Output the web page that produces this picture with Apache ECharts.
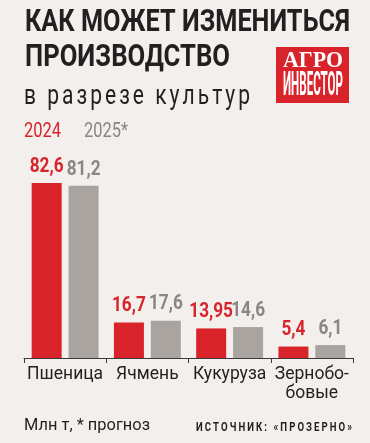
<!DOCTYPE html>
<html><head><meta charset="utf-8">
<script src="https://cdn.jsdelivr.net/npm/echarts@6/dist/echarts.min.js"></script>
<style>html,body{margin:0;padding:0;background:#f2efec;}#c{width:370px;height:443px;}</style>
</head><body><div id="c"></div>
<script>
// ---- data ----
const categories = ['Пшеница', 'Ячмень', 'Кукуруза', 'Зернобо-\nбовые'];
const seriesNames = ['2024', '2025*'];
const values2024 = [82.6, 16.7, 13.95, 5.4];
const values2025 = [81.2, 17.6, 14.6, 6.1];
const titleLines = ['КАК МОЖЕТ ИЗМЕНИТЬСЯ', 'ПРОИЗВОДСТВО'];
const subtitle = 'в разрезе культур';
const unitNote = 'Млн т, * прогноз';
const sourceNote = 'ИСТОЧНИК: «ПРОЗЕРНО»';
const logoLines = ['АГРО', 'ИНВЕСТОР'];

// ---- styles ----
const RED = '#d9232a', GRAY_BAR = '#a9a49f', GRAY_TXT = '#8b8681', DARK = '#231f20', BG = '#f2efec';

const cv = document.createElement('canvas').getContext('2d');
function tw(text, font) { cv.font = font; return cv.measureText(text).width; }

function fitText(str, x, y, size, weight, family, color, width) {
  const font = weight + ' ' + size + 'px "' + family + '"';
  const sx = width / tw(str, font);
  return { type: 'text', x: x, y: y, scaleX: sx, silent: true,
    style: { text: str, fill: color, fontSize: size, fontWeight: weight, fontFamily: family,
      align: 'left', verticalAlign: 'middle', textAlign: 'left', textVerticalAlign: 'middle' } };
}
function spacedText(str, x, y, size, weight, family, color, width, sx) {
  const font = weight + ' ' + size + 'px "' + family + '"';
  const chars = Array.from(str);
  const ws = chars.map(c => tw(c, font) * sx);
  const total = ws.reduce((a, b) => a + b, 0);
  const gap = (width - total) / (chars.length - 1);
  let cx = x; const els = [];
  chars.forEach((c, i) => {
    if (c !== ' ') els.push({ type: 'text', x: cx, y: y, scaleX: sx, silent: true,
      style: { text: c, fill: color, fontSize: size, fontWeight: weight, fontFamily: family,
        align: 'left', verticalAlign: 'middle', textAlign: 'left', textVerticalAlign: 'middle' } });
    cx += ws[i] + gap;
  });
  return els;
}

const fmt = v => String(v).replace('.', ',');

// value labels drawn through the chart's own coordinate system (condensed by scaleX)
function labelSeries(values, offset, color) {
  return {
    type: 'custom', coordinateSystem: 'cartesian2d', silent: true, z: 5,
    data: values.map((v, i) => [i, v]),
    encode: { x: 0, y: 1 },
    renderItem: function (params, api) {
      const p = api.coord([api.value(0), api.value(1)]);
      return { type: 'text', x: p[0] + offset, y: p[1] - 6, scaleX: 0.82,
        style: { text: fmt(api.value(1)), fill: color, fontSize: 21, fontWeight: 'bold',
          fontFamily: 'Roboto', align: 'center', verticalAlign: 'bottom',
          textAlign: 'center', textVerticalAlign: 'bottom' } };
    }
  };
}

const graphics = [
  fitText(titleLines[0], 25, 23.5, 31, 'bold', 'Roboto', DARK, 325),
  fitText(titleLines[1], 25, 58, 31, 'bold', 'Roboto', DARK, 205),
  ...spacedText(subtitle, 24, 97, 28, 'normal', 'Roboto', DARK, 226, 0.75),
  fitText(seriesNames[0], 24, 131.5, 20, 'normal', 'Roboto', RED, 37),
  fitText(seriesNames[1], 84, 131.5, 20, 'normal', 'Roboto', GRAY_TXT, 44),
  { type: 'rect', shape: { x: 276, y: 47, width: 73, height: 56 }, style: { fill: RED }, silent: true },
  fitText(logoLines[0], 283, 61, 24, 'bold', 'Liberation Serif', '#ffffff', 60),
  fitText(logoLines[1], 283, 86, 34, 'bold', 'Roboto', '#ffffff', 60),
  fitText(unitNote, 24, 426, 17, 'normal', 'Roboto', DARK, 126),
  ...spacedText(sourceNote, 196, 428, 12, 'bold', 'Roboto', DARK, 156, 0.8)
];

const chart = echarts.init(document.getElementById('c'), null, { renderer: 'canvas' });
chart.setOption({
  backgroundColor: BG,
  animation: false,
  grid: { left: 24, right: 17, top: 146, bottom: 85, containLabel: false },
  xAxis: {
    type: 'category', data: categories,
    axisLine: { lineStyle: { color: '#3a3a3a', width: 1 } },
    axisTick: { show: true, length: 5, lineStyle: { color: '#3a3a3a' } },
    axisLabel: { color: DARK, fontSize: 17.5, fontFamily: 'Roboto', margin: 7, lineHeight: 19, interval: 0 }
  },
  yAxis: { type: 'value', min: 0, max: 100, show: false, splitLine: { show: false } },
  series: [
    { name: seriesNames[0], type: 'bar', data: values2024, barWidth: 30, barGap: '23%',
      itemStyle: { color: RED } },
    { name: seriesNames[1], type: 'bar', data: values2025, barWidth: 30, barGap: '23%',
      itemStyle: { color: GRAY_BAR } },
    labelSeries(values2024, -18.5, RED),
    labelSeries(values2025, 18.5, GRAY_TXT)
  ],
  graphic: graphics
});
</script></body></html>
